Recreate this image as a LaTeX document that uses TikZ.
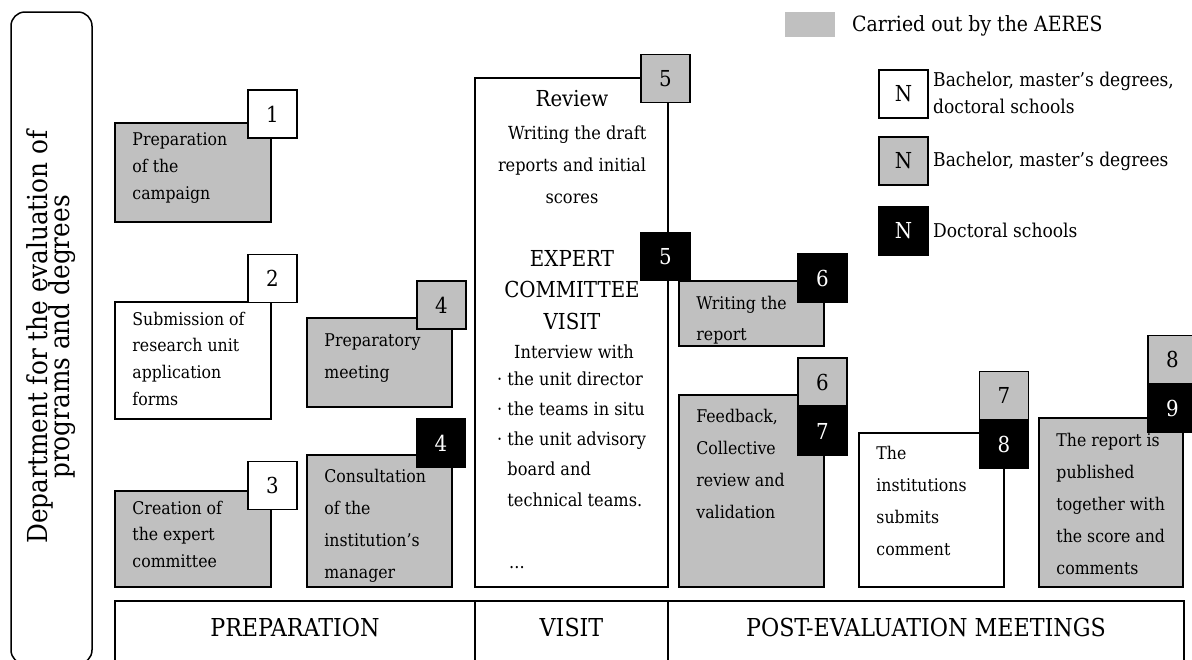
\documentclass[tikz,border=0pt]{standalone}
\usepackage{fontspec}
\setmainfont{DejaVu Serif Condensed}
\usetikzlibrary{calc}

\definecolor{aeres}{HTML}{C0C0C0}

\tikzset{
  stage/.style={draw, line width=1.5pt, rectangle, inner sep=0pt},
  gstage/.style={stage, fill=aeres},
  wstage/.style={stage, fill=white},
  tag/.style={draw, line width=1.5pt, rectangle, minimum width=49pt, minimum height=48pt, inner sep=0pt, font=\fontsize{22}{22}\selectfont},
  wtag/.style={tag, fill=white},
  gtag/.style={tag, fill=aeres},
  btag/.style={tag, fill=black, text=white},
  txt/.style={anchor=base west, align=left, inner sep=0pt, font=\fontsize{17.5}{27}\selectfont},
  phase/.style={inner sep=0pt, font=\fontsize{24.7}{24.7}\selectfont},
}

\begin{document}
\begin{tikzpicture}[x=1pt, y=-1pt]
\useasboundingbox (0,0) rectangle (1192,659);

% Department
\draw[line width=1.5pt, rounded corners=14pt] (11,12) rectangle (92,664);
\node[rotate=90, align=center, font=\fontsize{27.5}{21}\selectfont] (dept) at (51,337) {Department for the evaluation of\\[-5pt]programs and degrees};

% Legend
\node[fill=aeres, minimum width=50pt, minimum height=25pt, inner sep=0pt] (keyg) at (810,24.5) {};
\node[anchor=base west, inner sep=0pt, font=\fontsize{21}{21}\selectfont] (keygtxt) at (852,31) {Carried out by the AERES};
\node[wtag] (keyw) at (903.5,94) {N};
\node[gtag] (keym) at (903.5,161) {N};
\node[btag] (keyb) at (903.5,231) {N};
\node[txt, font=\fontsize{19}{27}\selectfont] (keywtxt) at (933,113) {Bachelor, master’s degrees,\\doctoral schools};
\node[txt, font=\fontsize{19}{27}\selectfont] (keymtxt) at (933,166) {Bachelor, master’s degrees};
\node[txt, font=\fontsize{19}{27}\selectfont] (keybtxt) at (933,237) {Doctoral schools};

% Preparation steps
\node[gstage, minimum width=156pt, minimum height=99pt] (campaign) at (193,172.5) {};
\node[wtag] (t1) at (272.5,114) {1};
\node[txt] at ($(campaign.north west)+(18,77)$) {Preparation\\of the\\campaign};

\node[wstage, minimum width=156pt, minimum height=117pt] (submit) at (193,360.5) {};
\node[wtag] (t2) at (272.5,278.5) {2};
\node[txt, font=\fontsize{17.5}{26.7}\selectfont] at ($(submit.north west)+(18,104)$) {Submission of\\research unit\\application\\forms};

\node[gstage, minimum width=156pt, minimum height=96pt] (committee) at (193,539) {};
\node[wtag] (t3) at (272.5,485.5) {3};
\node[txt, font=\fontsize{17.5}{26.5}\selectfont] at ($(committee.north west)+(18,77)$) {Creation of\\the expert\\committee};

\node[gstage, minimum width=145pt, minimum height=89pt] (meeting) at (379.5,362.5) {};
\node[gtag] (t4m) at (441.5,305) {4};
\node[txt, font=\fontsize{17.5}{32}\selectfont] at ($(meeting.north west)+(18,61)$) {Preparatory\\meeting};

\node[gstage, minimum width=145pt, minimum height=132pt] (manager) at (379.5,521) {};
\node[btag] (t4d) at (441,443) {4};
\node[txt, font=\fontsize{17.5}{32}\selectfont] at ($(manager.north west)+(18,124)$) {Consultation\\of the\\institution’s\\manager};

% Visit
\node[wstage, minimum width=193pt, minimum height=509pt] (review) at (571.5,332.5) {};
\node[gtag] (t5m) at (665.5,78.5) {5};
\node[btag] (t5d) at (665.5,256.5) {5};
\node[anchor=base, inner sep=0pt, font=\fontsize{22}{22}\selectfont] (revtitle) at (572,106) {Review};
\node[anchor=base, align=center, inner sep=0pt, font=\fontsize{18}{32}\selectfont] (revtxt) at (572,203) {\ \ Writing the draft\\reports and initial\\scores};
\node[anchor=base, align=center, inner sep=0pt, font=\fontsize{22}{31.5}\selectfont] (visittitle) at (572,329) {EXPERT\\COMMITTEE\\VISIT};
\node[anchor=base, inner sep=0pt, font=\fontsize{18}{18}\selectfont] (interview) at (574,358) {Interview with};
\node[txt, font=\fontsize{18}{30.25}\selectfont] (bullets) at (497,506) {· the unit director\\· the teams in situ\\· the unit advisory\\\phantom{· }board and\\\phantom{· }technical teams.};
\node[txt, font=\fontsize{18}{18}\selectfont] (dots) at (509,568) {...};

% Post-evaluation
\node[gstage, minimum width=145pt, minimum height=65pt] (writing) at (751.5,313.5) {};
\node[btag] (t6d) at (822.5,278) {6};
\node[txt, font=\fontsize{17.5}{31}\selectfont] at ($(writing.north west)+(18,60)$) {Writing the\\report};

\node[gstage, minimum width=145pt, minimum height=192pt] (feedback) at (751.5,491) {};
\node[gtag] (t6m) at (822.5,382) {6};
\node[btag] (t7d) at (822.5,431) {7};
\node[txt, font=\fontsize{17.5}{32}\selectfont] at ($(feedback.north west)+(18,124)$) {Feedback,\\Collective\\review and\\validation};

\node[wstage, minimum width=145pt, minimum height=154pt] (comment) at (931.5,510) {};
\node[gtag] (t7m) at (1004,395.5) {7};
\node[btag] (t8d) at (1004,444) {8};
\node[txt, font=\fontsize{17.5}{32}\selectfont] at ($(comment.north west)+(18,123)$) {The\\institutions\\submits\\comment};

\node[gstage, minimum width=144pt, minimum height=169pt] (publish) at (1111,502.5) {};
\node[gtag] (t8m) at (1172.5,359.5) {8};
\node[btag] (t9d) at (1172.5,408) {9};
\node[txt, font=\fontsize{17.5}{32}\selectfont] at ($(publish.north west)+(18,157)$) {The report is\\published\\together with\\the score and\\comments};

% Phases
\node[stage, minimum width=360pt, minimum height=70pt] (prepbar) at (295,636) {};
\node[stage, minimum width=193pt, minimum height=70pt] (visitbar) at (571.5,636) {};
\node[stage, minimum width=516pt, minimum height=70pt] (postbar) at (926,636) {};
\node[phase] at ($(prepbar.north)+(0,27)$) {PREPARATION};
\node[phase] at ($(visitbar.north)+(0,27)$) {VISIT};
\node[phase] at ($(postbar.north)+(0,27)$) {POST-EVALUATION MEETINGS};
\end{tikzpicture}
\end{document}
